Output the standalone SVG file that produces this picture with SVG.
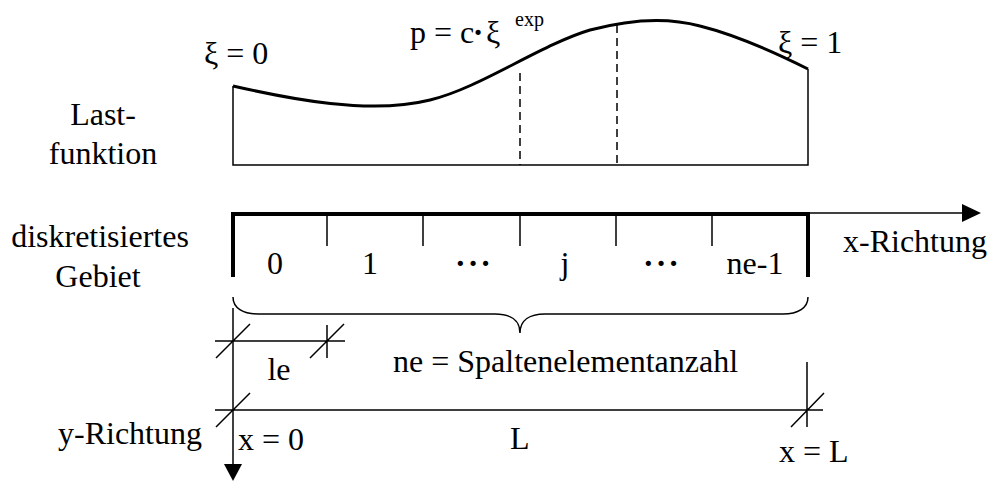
<svg xmlns="http://www.w3.org/2000/svg" width="988" height="481" viewBox="0 0 988 481">
<style>
text{font-family:"Liberation Serif","Times New Roman",serif;font-size:32px;fill:#000}
.m{text-anchor:middle}
.e{text-anchor:end}
.sup{font-size:20px}
.dots{font-weight:bold;letter-spacing:2px}
.thin{fill:none;stroke:#000;stroke-width:1.5}
.thick{fill:none;stroke:#000;stroke-width:4}
.curve{fill:none;stroke:#000;stroke-width:3}
.dash{fill:none;stroke:#000;stroke-width:1.5;stroke-dasharray:8 5}
</style>
<rect width="988" height="481" fill="#fff"/>
<g id="lastfunktion">
<path class="thin" d="M233,86 V165 H808 V69"/>
<path class="curve" d="M233,86 C290,99 370,115 430,100 C480,88 540,45 590,30 C620,22 660,15 700,26 C740,36 780,55 808,69"/>
<path class="dash" d="M520,73 V165 M617,25 V165"/>
<text x="204" y="64">ξ = 0</text>
<text x="410" y="43">p = c</text>
<text x="478" y="43" class="m" font-weight="bold">·</text>
<text x="486" y="43">ξ</text>
<text x="515" y="26" class="sup">exp</text>
<text x="778" y="53">ξ = 1</text>
<text x="103" y="125" class="m">Last-</text>
<text x="103" y="164" class="m">funktion</text>
</g>
<g id="gebiet">
<path class="thick" d="M233,277 V214 H808 V277"/>
<path class="thin" d="M327,214 V246 M423,214 V246 M520,214 V246 M616,214 V246 M712,214 V246"/>
<text x="275" y="274" class="m">0</text>
<text x="370" y="274" class="m">1</text>
<text x="474" y="274" class="m dots">···</text>
<text x="565" y="274" class="m">j</text>
<text x="662" y="274" class="m dots">···</text>
<text x="755" y="274" class="m">ne-1</text>
<text x="100" y="247" class="m">diskretisiertes</text>
<text x="98" y="287" class="m">Gebiet</text>
</g>
<g id="x-achse">
<path class="thin" d="M808,213 H964"/>
<polygon points="962,204 962,222 981,213" fill="#000"/>
<text x="843" y="252">x-Richtung</text>
</g>
<g id="klammer">
<path class="thin" d="M233,297 C233,308 243,314 258,314 L495,314 C510,314 520,320 520,333 C520,320 530,314 545,314 L783,314 C798,314 808,308 808,297"/>
<text x="393" y="372">ne = Spaltenelementanzahl</text>
</g>
<g id="bemassung">
<path class="thin" d="M215,341 H345 M327,325 V358 M216,358 L250,324 M310,358 L344,324"/>
<text x="279" y="380" class="m">le</text>
<path class="thin" d="M215,410 H823 M807,362 V427 M216,427 L250,393 M791,427 L824,393"/>
<text x="238" y="450">x = 0</text>
<text x="510" y="449">L</text>
<text x="779" y="462">x = L</text>
</g>
<g id="y-achse">
<path class="thin" d="M233,308 V466"/>
<polygon points="224,464 242,464 233,481" fill="#000"/>
<text x="202" y="444" class="e">y-Richtung</text>
</g>
</svg>
